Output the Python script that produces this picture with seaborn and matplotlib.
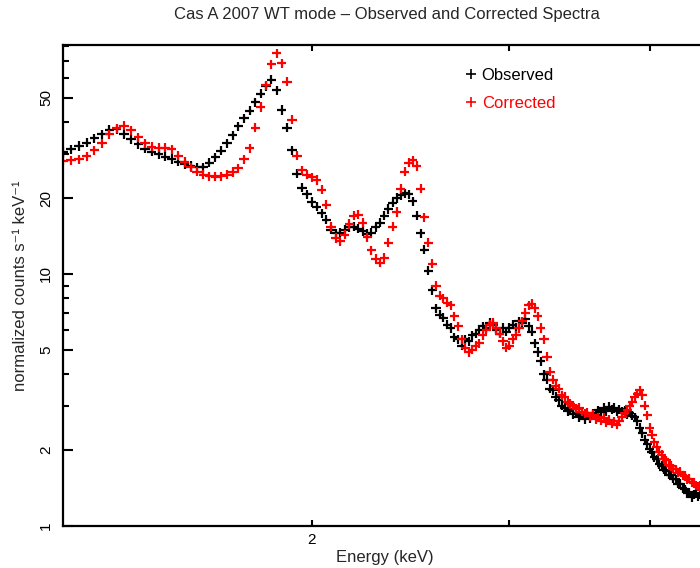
import matplotlib
matplotlib.use("Agg")
import matplotlib.pyplot as plt
import numpy as np
import pandas as pd
import seaborn as sns
from matplotlib.lines import Line2D
from matplotlib.ticker import FixedLocator, FixedFormatter, NullLocator, LogLocator, NullFormatter

# ---------------- data ----------------
energy = [
    1.20, 1.22, 1.24, 1.26, 1.28, 1.30, 1.32, 1.34, 1.36, 1.38,
    1.40, 1.42, 1.44, 1.46, 1.48, 1.50, 1.52, 1.54, 1.56, 1.58,
    1.60, 1.62, 1.64, 1.66, 1.68, 1.70, 1.72, 1.74, 1.76, 1.78,
    1.80, 1.82, 1.84, 1.86, 1.88, 1.90, 1.92, 1.94, 1.96, 1.98,
    2.00, 2.02, 2.04, 2.06, 2.08, 2.10, 2.12, 2.14, 2.16, 2.18,
    2.20, 2.22, 2.24, 2.26, 2.28, 2.30, 2.32, 2.34, 2.36, 2.38,
    2.40, 2.42, 2.44, 2.46, 2.48, 2.50, 2.52, 2.54, 2.56, 2.58,
    2.60, 2.62, 2.64, 2.66, 2.68, 2.70, 2.72, 2.74, 2.76, 2.78,
    2.80, 2.82, 2.84, 2.86, 2.88, 2.90, 2.92, 2.94, 2.96, 2.98,
    3.00, 3.02, 3.04, 3.06, 3.08, 3.10, 3.12, 3.14, 3.16, 3.18,
    3.20, 3.22, 3.24, 3.26, 3.28, 3.30, 3.32, 3.34, 3.36, 3.38,
    3.40, 3.42, 3.44, 3.46, 3.48, 3.50, 3.52, 3.54, 3.56, 3.58,
    3.60, 3.62, 3.64, 3.66, 3.68, 3.70, 3.72, 3.74, 3.76, 3.78,
    3.80, 3.82, 3.84, 3.86, 3.88, 3.90, 3.92, 3.94, 3.96, 3.98,
    4.00, 4.02, 4.04, 4.06, 4.08, 4.10, 4.12, 4.14, 4.16, 4.18,
    4.20, 4.22, 4.24, 4.26, 4.28, 4.30, 4.32, 4.34, 4.36, 4.38,
    4.40, 4.42, 4.44,
]

observed = [
    30.5, 31.2, 32.2, 33.2, 34.5, 35.8, 37.3, 37.5, 35.8, 34.2,
    32.8, 31.4, 30.6, 29.8, 29.2, 28.6, 27.9, 27.2, 26.8, 26.5,
    26.5, 27.6, 29.0, 30.8, 33.0, 35.5, 38.5, 41.5, 44.5, 48.0,
    52.0, 55.5, 59.0, 53.5, 44.7, 38.0, 31.0, 25.0, 22.0, 20.7,
    19.3, 18.5, 17.4, 16.4, 15.0, 14.5, 14.6, 15.0, 15.3, 15.4,
    15.1, 14.8, 14.4, 14.6, 15.3, 16.0, 17.0, 18.1, 19.2, 20.0,
    20.5, 20.9, 20.7, 19.4, 17.0, 14.5, 12.5, 10.3, 8.6, 7.3,
    6.9, 6.7, 6.3, 6.1, 5.6, 5.5, 5.2, 5.5, 5.4, 5.7,
    5.8, 6.0, 6.2, 6.1, 6.4, 6.3, 6.0, 5.8, 6.1, 5.9,
    6.1, 6.3, 6.1, 6.5, 6.4, 6.6, 6.2, 5.9, 5.3, 4.9,
    4.5, 4.0, 3.8, 3.5, 3.45, 3.25, 3.15, 3.0, 2.95, 2.85,
    2.9, 2.78, 2.82, 2.7, 2.75, 2.66, 2.74, 2.68, 2.8, 2.76,
    2.88, 2.84, 2.95, 2.86, 2.97, 2.9, 2.94, 2.85, 2.9, 2.84,
    2.86, 2.78, 2.82, 2.74, 2.7, 2.6, 2.45, 2.34, 2.2, 2.12,
    2.02, 1.96, 1.87, 1.84, 1.76, 1.73, 1.67, 1.66, 1.6, 1.59,
    1.54, 1.53, 1.47, 1.47, 1.41, 1.4, 1.35, 1.36, 1.3, 1.33,
    1.35, 1.31, 1.34,
]

corrected = [
    28.1, 28.2, 28.5, 29.3, 31.0, 33.0, 35.8, 37.8, 38.8, 37.2,
    34.8, 33.0, 32.0, 31.7, 31.7, 31.2, 29.5, 27.8, 26.5, 25.5,
    24.8, 24.4, 24.3, 24.4, 24.8, 25.4, 26.3, 28.5, 31.5, 38.0,
    46.0, 56.0, 68.0, 75.0, 68.5, 58.0, 41.0, 29.5, 25.8, 24.8,
    24.2, 23.6, 21.6, 18.8, 15.4, 13.9, 13.5, 14.3, 15.8, 17.0,
    17.2, 16.0, 14.0, 12.4, 11.5, 11.1, 11.6, 13.3, 15.4, 17.6,
    21.8, 25.5, 27.6, 28.2, 26.8, 21.8, 16.8, 13.3, 11.0, 9.0,
    8.2, 8.0, 7.7, 7.5, 6.8, 6.2, 5.5, 5.1, 4.9, 5.0,
    5.2, 5.3, 5.7, 6.0, 6.3, 6.4, 6.1, 5.8, 5.4, 5.1,
    5.2, 5.5, 5.7, 6.1, 6.5, 7.0, 7.5, 7.6, 7.3, 6.8,
    6.1, 5.5, 4.7, 4.1, 3.8, 3.6, 3.5, 3.3, 3.25, 3.1,
    3.05, 3.0, 2.92, 2.95, 2.84, 2.8, 2.82, 2.72, 2.76, 2.66,
    2.7, 2.62, 2.68, 2.58, 2.64, 2.55, 2.6, 2.52, 2.62, 2.7,
    2.8, 2.88, 3.0, 3.1, 3.25, 3.35, 3.45, 3.3, 3.0, 2.75,
    2.45, 2.3, 2.15, 2.06, 1.97, 1.92, 1.84, 1.82, 1.74, 1.73,
    1.69, 1.68, 1.63, 1.64, 1.59, 1.58, 1.53, 1.54, 1.49, 1.48,
    1.45, 1.43, 1.44,
]

series_names = ["Observed", "Corrected"]
series_colors = ["black", "red"]
title_text = "Cas A 2007 WT mode \u2013 Observed and Corrected Spectra"
x_label = "Energy (keV)"
y_label = "normalized counts s\u207b\u00b9 keV\u207b\u00b9"
x_ticks = [2, 3, 4]
x_tick_labels = ["2", "", ""]
y_ticks = [1, 2, 5, 10, 20, 50]
y_tick_labels = ["1", "2", "5", "10", "20", "50"]

# ---------------- plotting ----------------
sns.set_style("ticks")
plt.rcParams["font.family"] = ["Liberation Sans", "DejaVu Sans"]

n = len(energy)
df = pd.DataFrame({
    "Energy": energy + energy,
    "Flux": observed + corrected,
    "Series": [series_names[0]] * n + [series_names[1]] * n,
})

W, H = 700, 568
fig = plt.figure(figsize=(W / 100, H / 100), dpi=100)
ax = fig.add_axes([63 / W, 42 / H, 644 / W, 481 / H])

sns.scatterplot(
    data=df, x="Energy", y="Flux", hue="Series",
    palette=dict(zip(series_names, series_colors)),
    marker="+", s=44, linewidth=1.6, ax=ax, legend=False,
)

ax.set_xscale("log")
ax.set_yscale("log")
ax.set_xlim(1.2, 4.5)
ax.set_ylim(1, 81)

ax.xaxis.set_major_locator(FixedLocator(x_ticks))
ax.xaxis.set_major_formatter(FixedFormatter(x_tick_labels))
ax.xaxis.set_minor_locator(NullLocator())
ax.yaxis.set_major_locator(FixedLocator(y_ticks))
ax.yaxis.set_major_formatter(FixedFormatter(y_tick_labels))
ax.yaxis.set_minor_locator(LogLocator(base=10, subs=(2, 3, 4, 5, 6, 7, 8, 9)))
ax.yaxis.set_minor_formatter(NullFormatter())

for s in ax.spines.values():
    s.set_linewidth(1.6)
    s.set_color("black")

ax.tick_params(axis="both", which="both", direction="in", top=True, right=False,
               width=1.5, colors="black", labelsize=11)
ax.tick_params(axis="x", which="major", length=4, pad=5)
ax.tick_params(axis="y", which="major", length=7, pad=7, labelrotation=90)
ax.tick_params(axis="y", which="minor", length=4)
for lab in ax.get_yticklabels():
    lab.set_va("center")

ax.set_xlabel(x_label, fontsize=12, labelpad=2)
ax.set_ylabel(y_label, fontsize=12, labelpad=8)

fig.text(387 / W, 1 - 14 / H, title_text, ha="center", va="center", fontsize=12)

handles = [Line2D([], [], marker="+", color=c, linestyle="none", markersize=7, mew=1.2)
           for c in series_colors]
ax.legend(handles, series_names, labelcolor=series_colors, frameon=False,
          loc="upper left", bbox_to_anchor=(465 / W, 1 - 68 / H),
          bbox_transform=fig.transFigure, handlelength=0.7, handletextpad=0.3,
          labelspacing=0.75, borderpad=0, borderaxespad=0, fontsize=12)

fig.savefig("out.png", dpi=100)
